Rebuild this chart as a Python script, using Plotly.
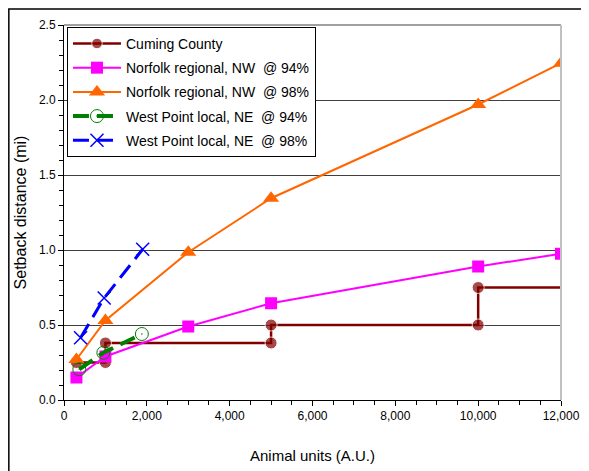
import plotly.graph_objects as go

# Data
cuming_x = [300, 1000, 1000, 5000, 5000, 10000, 10000, 12000]
cuming_y = [0.25, 0.25, 0.38, 0.38, 0.50, 0.50, 0.75, 0.75]

nor94_x = [300, 1000, 3000, 5000, 10000, 12000]
nor94_y = [0.15, 0.29, 0.49, 0.645, 0.89, 0.975]

nor98_x = [300, 1000, 3000, 5000, 10000, 12000]
nor98_y = [0.27, 0.53, 0.985, 1.345, 1.97, 2.245]

wp94_x = [370, 950, 1880]
wp94_y = [0.205, 0.315, 0.44]

wp98_x = [400, 970, 1900]
wp98_y = [0.415, 0.68, 1.005]

FONT = "Liberation Sans, Arial, sans-serif"

fig = go.Figure()
fig.add_trace(go.Scatter(
    x=cuming_x, y=cuming_y, name="Cuming County", mode="lines+markers", legendgroup="a",
    line=dict(color="#800000", width=2.5),
    marker=dict(symbol="circle", size=[12]*7 + [0], color="#800000")))
fig.add_trace(go.Scatter(
    x=nor94_x, y=nor94_y, name="Norfolk regional, NW  @ 94%", mode="lines+markers", legendgroup="b",
    line=dict(color="#FF00FF", width=2),
    marker=dict(symbol="square", size=12, color="#FF00FF")))
fig.add_trace(go.Scatter(
    x=nor98_x, y=nor98_y, name="Norfolk regional, NW  @ 98%", mode="lines+markers", legendgroup="c",
    line=dict(color="#FF6600", width=2),
    marker=dict(symbol="triangle-up", size=14, color="#FF6600")))
fig.add_trace(go.Scatter(
    x=wp94_x, y=wp94_y, name="West Point local, NE  @ 94%", mode="lines+markers", legendgroup="d",
    line=dict(color="#008000", width=4, dash="16px,8px"),
    marker=dict(symbol="circle-open-dot", size=13, color="#008000", line=dict(width=1, color="#008000"))))
fig.add_trace(go.Scatter(
    x=wp98_x, y=wp98_y, name="West Point local, NE  @ 98%", mode="lines+markers", legendgroup="e",
    line=dict(color="#0000FF", width=3, dash="16px,8px"),
    marker=dict(symbol="x-thin-open", size=13, color="#0000FF", line=dict(width=1.5, color="#0000FF"))))

fig.update_layout(
    width=589, height=471,
    margin=dict(l=56, r=36, t=17, b=79, autoexpand=False),
    paper_bgcolor="white", plot_bgcolor="white",
    font=dict(family=FONT, color="black", size=12),
    showlegend=True,
    legend=dict(x=0.006, y=0.995, xanchor="left", yanchor="top",
                bgcolor="white", bordercolor="black", borderwidth=1,
                font=dict(size=14, family=FONT), itemwidth=48,
                tracegroupgap=3),
    xaxis=dict(range=[0, 12000], tickvals=[0, 2000, 4000, 6000, 8000, 10000, 12000],
               ticktext=["0", "2,000", "4,000", "6,000", "8,000", "10,000", "12,000"],
               showgrid=False, zeroline=False, showline=True, linecolor="black", linewidth=1,
               ticks="outside", ticklen=5, tickcolor="black", automargin=False,
               minor=dict(dtick=500, ticks="outside", ticklen=4, tickcolor="black", showgrid=False),
               title=dict(text="Animal units (A.U.)", font=dict(size=15), standoff=28),
               tickfont=dict(size=12)),
    yaxis=dict(range=[0, 2.5], tickvals=[0, 0.5, 1.0, 1.5, 2.0, 2.5],
               ticktext=["0.0", "0.5", "1.0", "1.5", "2.0", "2.5"],
               showgrid=True, gridcolor="#404040", gridwidth=1,
               zeroline=False, showline=True, linecolor="black", linewidth=1,
               ticks="outside", ticklen=5, tickcolor="black", automargin=False,
               minor=dict(dtick=0.1, ticks="outside", ticklen=4, tickcolor="black", showgrid=False),
               title=dict(text="Setback distance (mi)", font=dict(size=16), standoff=8),
               tickfont=dict(size=12)),
    shapes=[
        dict(type="line", xref="paper", yref="paper", x0=0, x1=1, y0=1, y1=1,
             line=dict(color="#A0A0A0", width=2)),
        dict(type="line", xref="paper", yref="paper", x0=1, x1=1, y0=0, y1=1,
             line=dict(color="#C0C0C0", width=2)),
        dict(type="rect", xref="paper", yref="paper", x0=-0.111, x1=1.1, y0=-0.3, y1=1.043,
             line=dict(color="black", width=1.5), layer="below"),
    ],
)

fig.write_html("out.html")
